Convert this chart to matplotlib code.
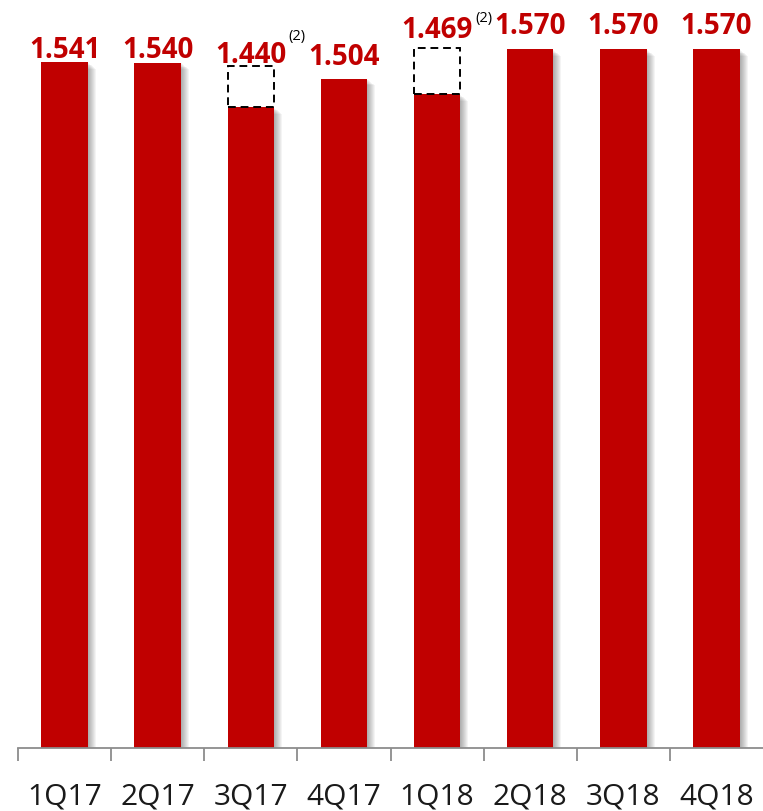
import matplotlib.pyplot as plt
from matplotlib.patches import Rectangle

# data
quarters = ["1Q17", "2Q17", "3Q17", "4Q17", "1Q18", "2Q18", "3Q18", "4Q18"]
values = [1.541, 1.540, 1.440, 1.504, 1.469, 1.570, 1.570, 1.570]
labels = ["1.541", "1.540", "1.440", "1.504", "1.469", "1.570", "1.570", "1.570"]
# dashed "adjusted" boxes: (bar index, adjusted value)
adjusted = [(2, 1.532), (4, 1.572)]
footnote = "(2)"

# layout (pixels above bar / box top for each label)
label_gap_px = [4, 5, 3, 14, 10, 15, 15, 15]

RED = "#C00000"
plt.rcParams['font.family'] = ['Open Sans', 'DejaVu Sans']

fig = plt.figure(figsize=(7.63, 8.11), dpi=100)
W, H = 763, 811
ax = fig.add_axes([18 / W, 63 / H, 1 - 18 / W, 748 / H])
ax.set_xlim(-0.5, 7.5)
ax.set_ylim(0, 748 / 445)

px_x = 8 / 745   # data units per pixel (x)
px_y = (748 / 445) / 748
bar_w = 0.5
x = list(range(len(quarters)))

# soft shadow on the right of each bar
for k in range(1, 9):
    ax.bar([xi + k * px_x for xi in x], [v - k * px_y * 0.8 for v in values],
           width=bar_w, color="black", alpha=0.045, linewidth=0, zorder=1)

ax.bar(x, values, width=bar_w, color=RED, linewidth=0, zorder=2)

tops = list(values)
for i, adj in adjusted:
    ax.add_patch(Rectangle((i - bar_w / 2, values[i]), bar_w, adj - values[i],
                           fill=False, edgecolor="black", linestyle=(0, (4, 2.5)),
                           linewidth=1.4, zorder=3))
    tops[i] = adj
    ax.annotate(footnote, (i, adj), xytext=(38, 30), textcoords="offset pixels",
                ha="left", va="center", fontsize=10.5, color="black")

for i, (t, lab) in enumerate(zip(tops, labels)):
    ax.annotate(lab, (i, t), xytext=(0, label_gap_px[i]), textcoords="offset pixels",
                ha="center", va="baseline", fontsize=20, fontweight="bold", color=RED)

for s in ["top", "right", "left"]:
    ax.spines[s].set_visible(False)
ax.spines["bottom"].set_color("#8C8C8C")
ax.spines["bottom"].set_linewidth(1.3)
ax.set_yticks([])
ax.set_xticks([i - 0.5 for i in x])
ax.set_xticklabels([])
ax.tick_params(axis="x", which="major", direction="out", length=9, width=1.3,
               color="#8C8C8C")
ax.set_xticks(x, minor=True)
ax.set_xticklabels(quarters, minor=True, fontsize=21.5, color="#1A1A1A")
ax.tick_params(axis="x", which="minor", length=0, pad=25)

fig.savefig("out.png", dpi=100)
